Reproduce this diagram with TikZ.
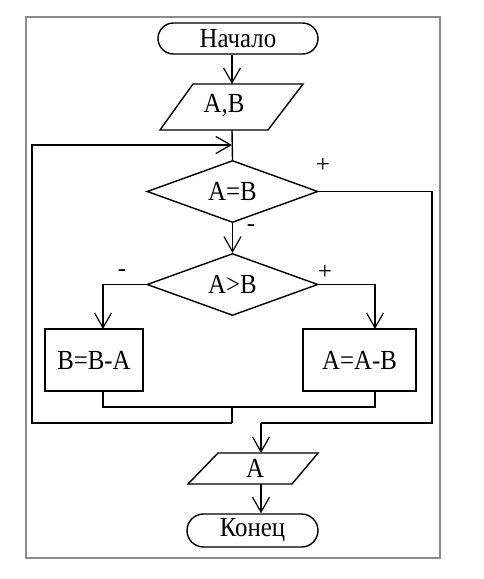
\documentclass[tikz,border=0pt]{standalone}
\usepackage{fontspec}
\setmainfont{Liberation Serif}
\usetikzlibrary{arrows.meta,shapes.geometric}
\newcommand\tallt[1]{\scalebox{1.08}[1.2]{#1}}
\begin{document}
\begin{tikzpicture}[x=1pt,y=-1pt,
  line/.style={line width=1.4pt,black},
  arr/.style={line,-{Straight Barb[length=15pt,width=17pt,line width=1.2pt]}},
  lbl/.style={font=\fontsize{23}{23}\selectfont,inner sep=0pt},
  term/.style={draw,line width=1.4pt,rectangle,rounded corners=15.5pt,inner sep=0pt,font=\fontsize{23}{23}\selectfont},
  dia/.style={draw,line width=1.4pt,diamond,inner sep=0pt,aspect=2.75,minimum width=171pt,minimum height=62pt,font=\fontsize{23}{23}\selectfont},
  box/.style={draw,line width=1.4pt,rectangle,inner sep=0pt,minimum height=62pt,font=\fontsize{23}{23}\selectfont},
  sign/.style={font=\fontsize{25}{25}\selectfont,inner sep=0pt}
]
\useasboundingbox (0,0) rectangle (483,579);
\fill[white] (0,0) rectangle (483,579);
\draw[gray!90,line width=2pt] (26,17) rectangle (440,558);

% nodes
\node[term,minimum width=160pt,minimum height=31pt] (start) at (238,38.5) {\tallt{Начало}};
\node[lbl] (in) at (224,106) {\tallt{A,B}};
\draw[line] (193,84) -- (303,84) -- (268,130) -- (160,130) -- cycle;
\node[dia] (d1) at (232.5,191.5) {\tallt{A=B}};
\node[dia] (d2) at (232.5,284.5) {\tallt{A>B}};
\node[box,minimum width=98pt] (bL) at (94,360) {\tallt{B=B-A}};
\node[box,minimum width=113pt] (bR) at (359.5,360) {\tallt{A=A-B}};
\node[lbl] (out) at (255,468) {\tallt{A}};
\draw[line] (218,453) -- (318,453) -- (292,484) -- (188,484) -- cycle;
\node[term,minimum width=131pt,minimum height=33pt,rounded corners=16.5pt] (end) at (252.5,530.5) {\tallt{Конец}};

% coordinates
\coordinate (inT) at (232,84);
\coordinate (inB) at (232,130);
\coordinate (j1) at (232,145);
\coordinate (r1) at (432,191.5);
\coordinate (r2) at (432,423);
\coordinate (r3) at (261,423);
\coordinate (oT) at (261,453);
\coordinate (oB) at (261,484);
\coordinate (bLT) at (103,329);
\coordinate (bRT) at (375,329);
\coordinate (bLB) at (103,391);
\coordinate (bRB) at (375,391);
\coordinate (m1) at (103,407);
\coordinate (m2) at (375,407);
\coordinate (mC) at (232,407);
\coordinate (mB) at (232,423);
\coordinate (lB) at (32,423);
\coordinate (lT) at (32,145);

% connectors
\draw[arr] (start.south -| inT) -- (inT);
\draw[line] (inB) -- (d1.north);
\draw[line] (d1.east) -- (r1) -- (r2) -- (r3);
\draw[arr] (r3) -- (oT);
\draw[arr] (d1.south) -- (d2.north);
\draw[arr] (d2.west) -| (bLT);
\draw[arr] (d2.east) -| (bRT);
\draw[line] (bLB) -- (m1) -- (m2) -- (bRB);
\draw[line] (mC) -- (mB);
\draw[arr] (mB) -- (lB) -- (lT) -- (j1);
\draw[arr] (oB) -- (end.north -| oB);

% labels
\node[sign] (p1) at (323,165) {+};
\node[sign] (m1l) at (251,228) {-};
\node[sign] (m2l) at (122,273) {-};
\node[sign] (p2) at (325,272) {+};
\end{tikzpicture}
\end{document}
